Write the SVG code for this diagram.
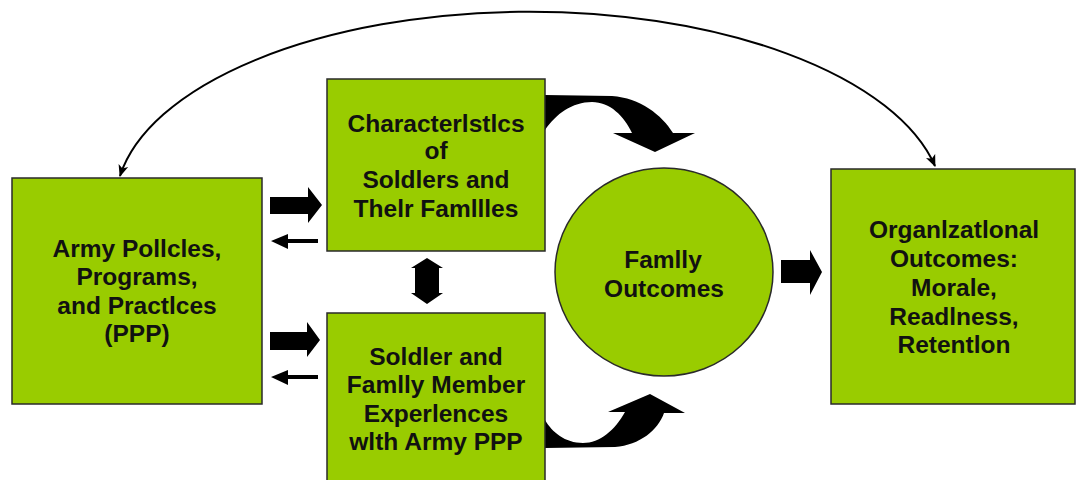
<svg xmlns="http://www.w3.org/2000/svg" width="1076" height="480" viewBox="0 0 1076 480">
<defs>
<style>
.box{fill:#99CC00;stroke:#2a2a2a;stroke-width:1.5}
.t{font-family:"Liberation Sans",Arial,sans-serif;font-weight:bold;font-size:24.5px;fill:#111;text-anchor:middle}
.blk{fill:#000}
.arc{fill:none;stroke:#000;stroke-width:2}
</style>
<marker id="ah" viewBox="0 0 12 12" refX="11" refY="6" markerWidth="12" markerHeight="12" markerUnits="userSpaceOnUse" orient="auto-start-reverse">
<path d="M0,1 L12,6 L0,11 L3,6 Z" fill="#000"/>
</marker>
</defs>
<rect width="1076" height="480" fill="#fff"/>
<g id="connectors">
<path class="arc" d="M120,176 A414,193 0 0 1 935,166" marker-start="url(#ah)" marker-end="url(#ah)"/>
<path class="blk" d="M270,197 L308,197 L308,187 L322,205 L308,223 L308,214 L270,214 Z"/>
<path class="blk" d="M318,239 L288,239 L288,234 L271,241 L288,249 L288,243 L318,243 Z"/>
<path class="blk" d="M270,332 L307,332 L307,322 L320,340 L307,357 L307,350 L270,350 Z"/>
<path class="blk" d="M318,375 L288,375 L288,370 L271,377 L288,385 L288,379 L318,379 Z"/>
<path class="blk" d="M427,258 L443,268 L439,268 L439,293 L443,293 L427,304 L411,293 L415,293 L415,268 L411,268 Z"/>
<path class="blk" d="M781,260 L810,260 L810,250 L822,272 L810,295 L810,283 L781,283 Z"/>
<path class="blk" d="M545,95 L612,96 C640,98 662,115 673,133 L695,133 L655,152 L613,133 L632,133 C624,116 610,102 592,102 C572,102 556,114 545,130 Z"/>
<path class="blk" d="M545,448 L615,447 C640,445 658,430 664,413 L685,413 L650,394 L608,412 L625,412 C615,430 600,443 583,443 C565,443 552,432 545,420 Z"/>
</g>
<g id="ppp">
<rect class="box" x="12" y="178" width="250" height="226"/>
<text class="t" x="137" y="257">Army Pollcles,</text>
<text class="t" x="137" y="285">Programs,</text>
<text class="t" x="137" y="314">and Practlces</text>
<text class="t" x="137" y="342">(PPP)</text>
</g>
<g id="characteristics">
<rect class="box" x="327" y="79" width="218" height="172"/>
<text class="t" x="436" y="132">Characterlstlcs</text>
<text class="t" x="436" y="159">of</text>
<text class="t" x="436" y="188">Soldlers and</text>
<text class="t" x="436" y="217">Thelr Famllles</text>
</g>
<g id="experiences">
<rect class="box" x="327" y="313" width="218" height="172"/>
<text class="t" x="436" y="365">Soldler and</text>
<text class="t" x="436" y="393">Famlly Member</text>
<text class="t" x="436" y="422">Experlences</text>
<text class="t" x="436" y="450">wlth Army PPP</text>
</g>
<g id="family-outcomes">
<ellipse class="box" cx="664" cy="272" rx="109" ry="104"/>
<text class="t" x="663" y="268">Famlly</text>
<text class="t" x="664" y="297">Outcomes</text>
</g>
<g id="organizational-outcomes">
<rect class="box" x="831" y="169" width="244" height="235"/>
<text class="t" x="954" y="238">Organlzatlonal</text>
<text class="t" x="954" y="267">Outcomes:</text>
<text class="t" x="954" y="296">Morale,</text>
<text class="t" x="954" y="325">Readlness,</text>
<text class="t" x="954" y="353">Retentlon</text>
</g>
</svg>
